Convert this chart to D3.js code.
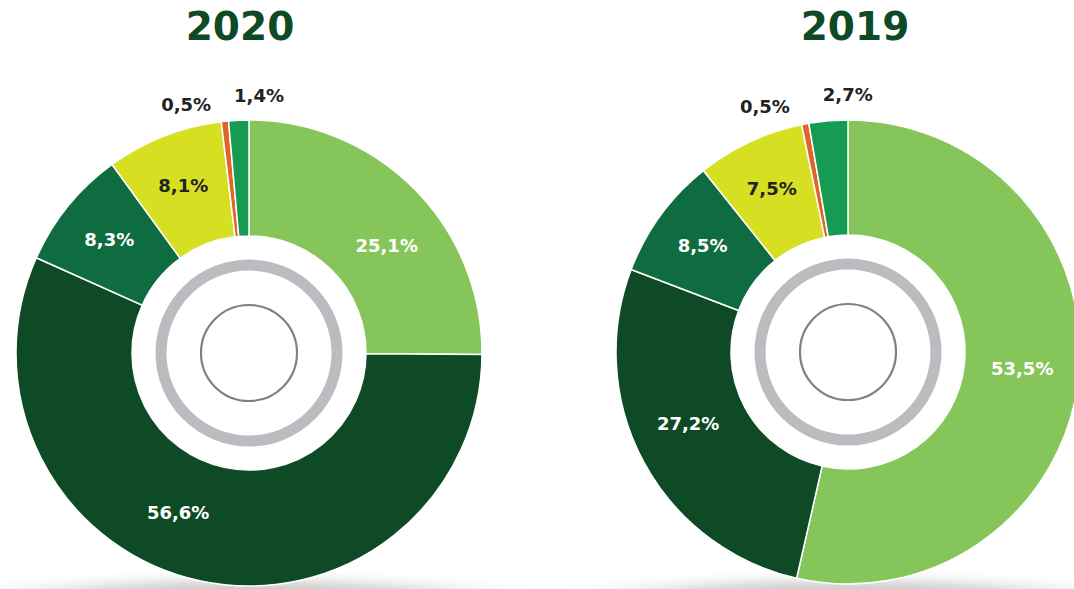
<!DOCTYPE html>
<html>
<head>
<meta charset="utf-8">
<script src="https://cdn.jsdelivr.net/npm/d3@7"></script>
<style>
  body { margin: 0; background: #fff; overflow: hidden; }
  text { font-family: "DejaVu Sans", "Open Sans", sans-serif; }
</style>
</head>
<body>
<div id="container"></div>
<script>
const WIDTH = 1074;
const HEIGHT = 589;

// Data
const years = ['2020', '2019'];
const categories = ['A', 'B', 'C', 'D', 'E', 'F'];
const values2020 = [25.1, 56.6, 8.3, 8.1, 0.5, 1.4];
const values2019 = [53.5, 27.2, 8.5, 7.5, 0.5, 2.7];
const colors = ['#85c55a', '#0e4a25', '#0f6b40', '#d6df22', '#e0652a', '#169b52'];
const labelColors = ['#fff', '#fff', '#fff', '#222', '#222', '#222'];

const charts = [
  { title: years[0], values: values2020, cx: 249, cy: 353, r: 233, titleX: 240 },
  { title: years[1], values: values2019, cx: 848, cy: 352, r: 232, titleX: 855 }
];

const svg = d3.select('#container').append('svg')
    .attr('width', WIDTH)
    .attr('height', HEIGHT);

// Soft shadow at the bottom
const defs = svg.append('defs');
const grad = defs.append('radialGradient').attr('id', 'shadow');
grad.append('stop').attr('offset', '0%').attr('stop-color', '#a8a8a8').attr('stop-opacity', 1);
grad.append('stop').attr('offset', '55%').attr('stop-color', '#cfcfcf').attr('stop-opacity', 0.7);
grad.append('stop').attr('offset', '100%').attr('stop-color', '#ffffff').attr('stop-opacity', 0);
charts.forEach(function(c) {
  svg.append('ellipse')
      .attr('cx', c.cx)
      .attr('cy', 600)
      .attr('rx', 340)
      .attr('ry', 32)
      .attr('fill', 'url(#shadow)');
});

const fmt = function(v) { return v.toFixed(1).replace('.', ',') + '%'; };

charts.forEach(function(c) {
  const g = svg.append('g')
      .attr('transform', 'translate(' + c.cx + ',' + c.cy + ')');

  const pie = d3.pie().sort(null).value(function(d) { return d; });
  const arcs = pie(c.values);
  const arc = d3.arc().innerRadius(117).outerRadius(c.r);
  const outArc = d3.arc().innerRadius(250).outerRadius(250);

  g.selectAll('path.slice')
    .data(arcs)
    .enter().append('path')
      .attr('class', 'slice')
      .attr('d', arc)
      .attr('fill', function(d, i) { return colors[i]; })
      .attr('stroke', '#fff')
      .attr('stroke-width', 1.5);

  // Inner decorations
  g.append('circle').attr('r', 88)
      .attr('fill', 'none').attr('stroke', '#bbbcc0').attr('stroke-width', 11);
  g.append('circle').attr('r', 48)
      .attr('fill', 'none').attr('stroke', '#808083').attr('stroke-width', 2.2);

  // Labels
  arcs.forEach(function(d, i) {
    const small = d.data < 3;
    let x, y, anchor;
    if (!small) {
      // big slices: pull the label a bit towards the horizontal
      let a = (d.startAngle + d.endAngle) / 2;
      let rr = 180;
      if (d.data > 20) {
        const h = a < Math.PI ? Math.PI / 2 : Math.PI * 1.5;
        a = a + 0.15 * (h - a);
        rr = 175;
      }
      x = rr * Math.sin(a); y = -rr * Math.cos(a); anchor = 'middle';
    } else {
      const p = outArc.centroid(d);
      if (i === arcs.length - 1) {
        x = p[0] - 4; y = p[1] - 8; anchor = 'start';
      } else {
        x = p[0] - 12; y = p[1]; anchor = 'end';
      }
    }
    g.append('text')
        .attr('x', x)
        .attr('y', y)
        .attr('dy', '0.36em')
        .attr('text-anchor', anchor)
        .attr('font-size', 18)
        .attr('font-weight', 700)
        .attr('fill', labelColors[i])
        .text(fmt(d.data));
  });

  svg.append('text')
      .attr('x', c.titleX)
      .attr('y', 40)
      .attr('text-anchor', 'middle')
      .attr('font-size', 39)
      .attr('font-weight', 700)
      .attr('fill', '#0d4a25')
      .text(c.title);
});
</script>
</body>
</html>
